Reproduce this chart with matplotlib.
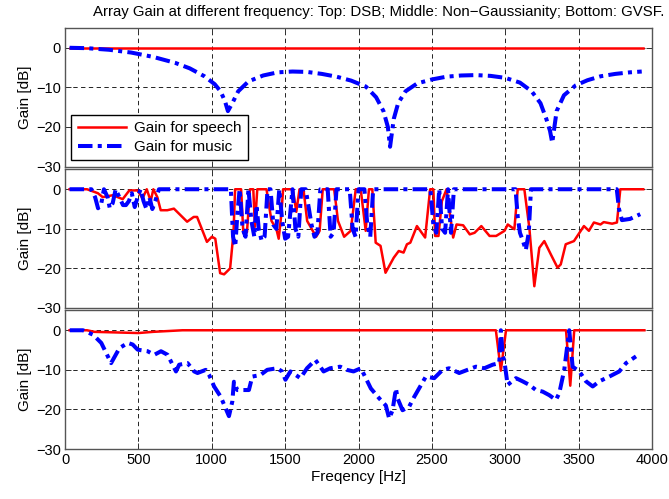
import numpy as np
import matplotlib
matplotlib.use("Agg")
import matplotlib.pyplot as plt

plt.rcParams['font.family'] = ['Liberation Sans', 'DejaVu Sans']

# ---- top panel: DSB ----
dsb_speech_f = [31, 3937]
dsb_speech_db = [0, 0]
dsb_music_f = [31, 150, 300, 450, 600, 750, 850, 950, 1020, 1060, 1090, 1110, 1140, 1180, 1250,
               1350, 1450, 1550, 1650, 1750, 1850, 1950, 2050, 2120, 2170, 2200, 2215, 2240, 2270,
               2320, 2400, 2500, 2600, 2700, 2800, 2900, 3000, 3100, 3180, 3240, 3280, 3305, 3320,
               3350, 3400, 3480, 3560, 3650, 3750, 3850, 3930]
dsb_music_db = [0, -0.1, -0.5, -1.2, -2.3, -3.8, -5.2, -7.2, -9.2, -11, -13.5, -16, -14, -11, -8.5,
                -7, -6.2, -6, -6.1, -6.6, -7.3, -8.3, -9.8, -12.5, -16, -20, -25, -18, -14,
                -11, -9, -8, -7.3, -7, -6.9, -7.1, -7.6, -8.8, -11, -14, -18, -21, -24,
                -16, -12, -9.5, -8.2, -7.2, -6.6, -6.2, -6]

# ---- middle panel: Non-Gaussianity ----
ng_speech_f = [31, 150, 224, 257, 326, 393, 438, 494, 528, 557,
               584, 602, 629, 652, 697, 742, 832, 877, 900, 967,
               1001, 1024, 1057, 1084, 1125, 1148, 1159, 1200, 1215, 1240,
               1260, 1283, 1294, 1310, 1328, 1373, 1407, 1440, 1456, 1475,
               1486, 1553, 1576, 1598, 1625, 1650, 1711, 1735, 1756, 1834,
               1860, 1902, 1947, 1981, 2015, 2049, 2071, 2094, 2117, 2150,
               2184, 2240, 2274, 2307, 2330, 2353, 2398, 2454, 2488, 2510,
               2522, 2545, 2568, 2600, 2645, 2668, 2713, 2758, 2791, 2837,
               2893, 2938, 2995, 3017, 3062, 3085, 3130, 3164, 3198, 3232,
               3266, 3311, 3356, 3378, 3412, 3468, 3536, 3570, 3604, 3649,
               3671, 3728, 3761, 3784, 3940]
ng_speech_db = [0, 0, -1, -2, -1.5, -2.5, -0.3, -0.3, -2.3, 0,
                -3, 0, -2, -5.3, -5.3, -4.9, -8.2, -7, -7, -13.3,
                -12, -12.5, -21.2, -21.5, -20, -11, 0, 0, -11, -10.8,
                0, 0, -9.5, 0, 0, 0, -8, -10, -12.5, -6,
                0, 0, -5.7, 0, 0, -8, -12, -10.5, 0, 0,
                -8, -12, -10.5, 0, 0, -10.5, 0, 0, -13.5, -14.3,
                -21.1, -17.3, -15.6, -16, -13.9, -13.5, -9.3, -12.2, 0, 0,
                -11.8, -11.8, -3, 0, -12.2, -8.9, -9.1, -11.4, -11, -9.3,
                -11.8, -11.8, -10.5, -8.9, -10.1, 0, 0, -9.7, -24.5, -14.8,
                -13.1, -16.5, -19.8, -19, -13.9, -13.1, -9.3, -10.5, -8.4, -8.9,
                -8.3, -8.7, -8.4, 0, 0]
ng_music_f = [31, 180, 205, 225, 245, 265, 290, 305, 325, 345,
              370, 395, 415, 435, 455, 475, 495, 515, 535, 555,
              575, 595, 615, 640, 1130, 1145, 1160, 1175, 1190, 1210,
              1230, 1250, 1270, 1290, 1305, 1320, 1340, 1360, 1380, 1400,
              1420, 1440, 1460, 1480, 1500, 1520, 1550, 1570, 1590, 1610,
              1640, 1680, 1700, 1720, 1740, 1790, 1810, 1830, 1850, 1940,
              1960, 1980, 2000, 2040, 2060, 2080, 2100, 2490, 2510, 2530,
              2550, 2570, 2590, 2610, 2630, 2650, 3070, 3085, 3100, 3120,
              3140, 3160, 3175, 3760, 3775, 3795, 3850, 3920]
ng_music_db = [0, 0, -2, -4.8, -4, 0, -2, -4.8, -3.5, 0,
               -2, -4, -4, -3, -1, -4.5, -2, 0, -3, -5,
               -2, -5, -3, 0, 0, -12, -14.5, -6, 0, -10,
               -12, 0, -8, -12, -4, -10, -13, -12, 0, 0,
               -9, -10, 0, -8, -12.5, -12, 0, -10, -12, 0,
               0, -9, -12, -11, 0, 0, -12, -11, 0, 0,
               -10, -12, 0, 0, -9, -12, 0, 0, -9, -11,
               0, -10, -11, 0, -11, 0, 0, -7, -11, -13,
               -15.4, -11, 0, 0, -5, -7.8, -7.5, -6.3]

# ---- bottom panel: GVSF ----
gvsf_speech_f = [31, 150, 200, 300, 400, 500, 600, 700, 800, 2936, 2970, 3005, 3414, 3443, 3470, 3948]
gvsf_speech_db = [0, 0, -0.4, -0.5, -0.6, -0.7, -0.4, -0.2, 0, 0, -10.2, 0, 0, -14, 0, 0]
gvsf_music_f = [32, 122, 190, 247, 314, 371, 428, 461, 495, 563,
                608, 654, 699, 756, 778, 835, 880, 903, 959, 982,
                1016, 1061, 1117, 1140, 1151, 1174, 1208, 1253, 1276, 1332,
                1378, 1445, 1479, 1502, 1536, 1604, 1649, 1706, 1762, 1807,
                1875, 1920, 1966, 2016, 2039, 2084, 2141, 2186, 2209, 2232,
                2255, 2266, 2300, 2345, 2380, 2459, 2516, 2573, 2618, 2686,
                2743, 2800, 2857, 2914, 2959, 2970, 2982, 2993, 3016, 3073,
                3118, 3164, 3209, 3255, 3300, 3345, 3368, 3402, 3436, 3459,
                3505, 3550, 3596, 3641, 3709, 3777, 3823, 3891]
gvsf_music_db = [0, 0, -1.1, -3.2, -8.3, -4.5, -3.2, -3.6, -4.9, -5.3,
                 -6.2, -5.3, -6.2, -10.4, -8.7, -8.3, -10.4, -10.8, -10, -11.3,
                 -14.2, -16.8, -21.7, -18, -13, -15.1, -15.1, -15.1, -11.7, -11.3,
                 -10, -9.6, -10.4, -12.5, -10.4, -12.1, -9.6, -7.5, -10.4, -9.6,
                 -9.2, -10, -10.4, -9.6, -11.3, -14.7, -17.2, -19, -22.3, -20.2,
                 -14.7, -17.2, -20.2, -19.3, -16.8, -11.7, -12.1, -10, -9.6, -10.8,
                 -10, -9.2, -9.6, -8.7, -8.3, 0, -6.6, -7.5, -13.8, -12.1,
                 -12.9, -13.8, -15.1, -15.5, -16.4, -17.6, -15.9, -10, 0, -9.2,
                 -10.4, -12.9, -14.2, -12.9, -11.7, -10.4, -8.3, -6.6]

xticks = np.arange(0, 4001, 500)
yticks = [-30, -20, -10, 0]

panels = [(dsb_speech_f, dsb_speech_db, dsb_music_f, dsb_music_db),
          (ng_speech_f, ng_speech_db, ng_music_f, ng_music_db),
          (gvsf_speech_f, gvsf_speech_db, gvsf_music_f, gvsf_music_db)]

fig = plt.figure(figsize=(6.69, 4.99), dpi=100)
left, width, height = 0.0972, 0.8774, 0.2776
bottoms = [0.6663, 0.3828, 0.1002]

axes = []
for i, (sf, sv, mf, mv) in enumerate(panels):
    ax = fig.add_axes([left, bottoms[i], width, height])
    ax.plot(sf, sv, color='red', lw=1.8, label='Gain for speech', zorder=3)
    ax.plot(mf, mv, color='blue', lw=2.9, dashes=(3.6, 1.3, 1.0, 1.3),
            dash_capstyle='butt', label='Gain for music', zorder=3)
    ax.set_xlim(0, 4000)
    ax.set_ylim(-30, 5)
    ax.set_xticks(xticks)
    ax.set_yticks(yticks)
    ax.grid(True, color='#222222', ls=(0, (4.5, 3.5)), lw=0.7)
    ax.tick_params(direction='in', top=True, right=True, length=4, labelsize=10.5,
                   width=0.7, color='#333333', pad=3)
    for s in ax.spines.values():
        s.set_color('#555555')
        s.set_linewidth(1.0)
    ax.set_ylabel('Gain [dB]', fontsize=11, labelpad=3)
    if i < 2:
        ax.tick_params(labelbottom=False)
    axes.append(ax)

axes[2].set_xlabel('Freqency [Hz]', fontsize=11, labelpad=2)

leg = axes[0].legend(loc='lower left', bbox_to_anchor=(0.011, 0.047), borderaxespad=0,
                     fancybox=False, edgecolor='black', framealpha=1, fontsize=11,
                     handlelength=3.2, borderpad=0.4, labelspacing=0.3, handletextpad=0.5)
leg.get_frame().set_linewidth(1.0)
leg.set_zorder(5)

fig.text(0.566, 0.976, 'Array Gain at different frequency: Top: DSB; Middle: Non\u2212Gaussianity; Bottom: GVSF.',
         ha='center', va='center', fontsize=10.8)

fig.savefig('out.png', dpi=100, facecolor='white')
